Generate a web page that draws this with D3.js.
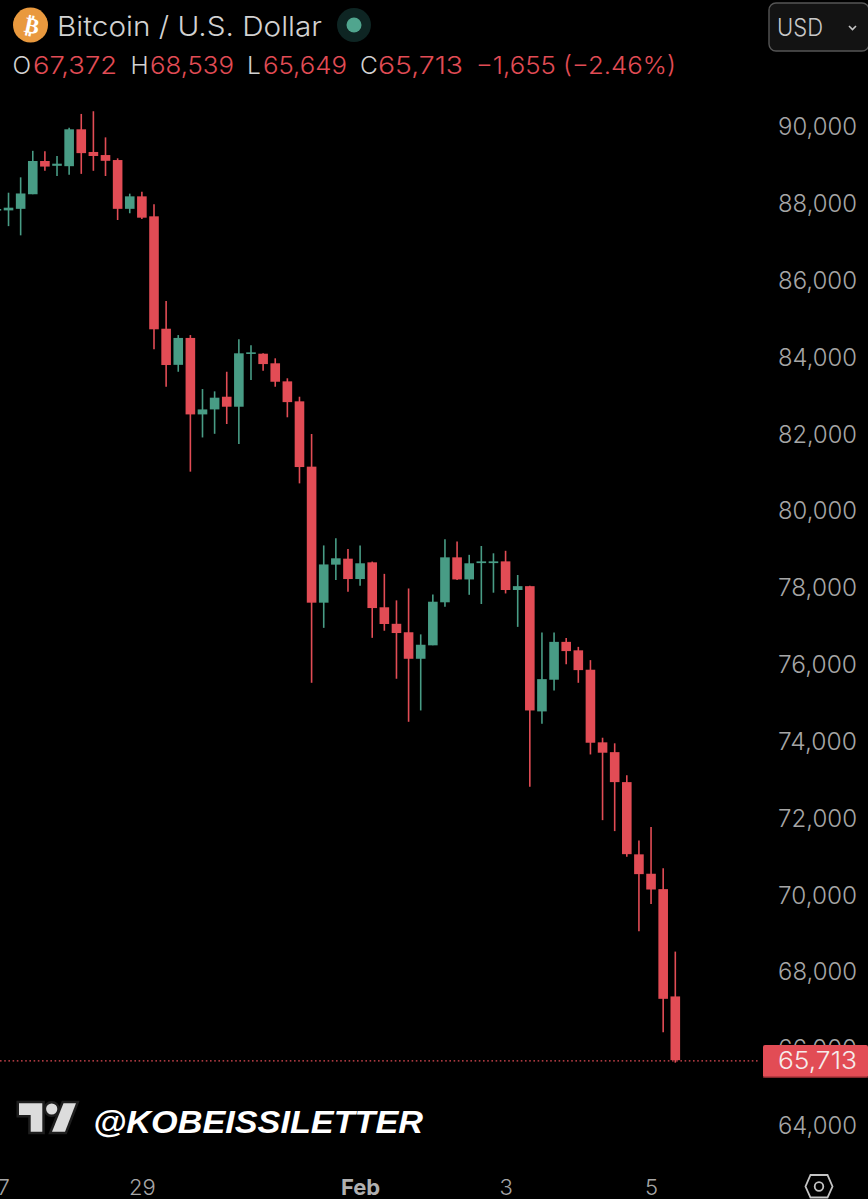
<!DOCTYPE html>
<html>
<head>
<meta charset="utf-8">
<script src="https://cdn.jsdelivr.net/npm/d3@7/dist/d3.min.js"></script>
<style>
html,body{margin:0;padding:0;background:#000;overflow:hidden}
svg{display:block}
text{font-family:Inter,Roboto,"Liberation Sans",sans-serif;font-weight:300}
</style>
</head>
<body>
<svg id="c" width="868" height="1199"></svg>
<script>
// 4-hour candles, first one is cut by the left edge
const open  = [87866,87830,87870,88250,89115,88990,88980,89940,89350,89270,89140,87870,88195,87675,84750,83810,84510,82520,82650,82980,82720,84100,84100,83850,83380,82860,81160,77620,78610,78765,78235,78670,77500,77070,76850,76160,76510,77630,78800,78225,78650,78650,78695,77950,78050,74790,75615,76600,76380,75875,73985,73730,72950,71070,70565,70165,67372];
const high  = [88300,88290,88690,89380,89370,89245,89980,90340,90410,89730,89185,88265,88315,87990,85470,84585,84585,83180,83120,83630,84475,84320,84110,83980,83460,82980,82010,79110,79295,79015,79110,78690,78370,77680,77990,76795,77835,79270,79215,78865,79095,78905,78970,78340,78060,76845,76845,76700,76470,76125,74105,73960,73130,71430,71785,70710,68539];
const low   = [87800,87420,87180,88250,88860,88725,88760,88780,88860,88725,87580,87755,87605,84215,83240,83630,81030,81920,82015,82270,81750,83415,83655,83240,82445,80725,75535,76965,78210,77905,78060,76705,76890,75640,74520,74815,76510,77515,78210,77825,77585,77880,77860,76990,72830,74470,75335,76015,75535,73670,71960,71675,71005,69070,69775,66440,65649];
const close = [87866,87900,88270,89115,88970,89045,89940,89320,89245,89120,87870,88195,87640,84735,83805,84510,82520,82650,82955,82720,84110,84135,83830,83370,82840,81150,77620,78615,78775,78235,78645,77480,77065,76830,76160,76525,77645,78800,78225,78645,78695,78695,77950,78050,74815,75630,76600,76360,75865,73975,73715,72950,71075,70555,70155,67310,65713];
const timeIndex  = [0,12,30,42,54];
const timeLabels = ["27","29","Feb","3","5"];
const priceTicks = [90000,88000,86000,84000,82000,80000,78000,76000,74000,72000,70000,68000,66000,64000];
const headerTitle = "Bitcoin / U.S. Dollar";
const changeText = "−1,655 (−2.46%)";
const lastPrice = close[close.length-1];

const RED="#e24c55", GREEN="#489c85", GREY="#a6a6a6";
const svg=d3.select("#c");
const fmt=d3.format(",");
const x=d3.scaleLinear().domain([0,56]).range([-3.6,675.3]);
const y=d3.scaleLinear().domain([90000,64000]).range([127,1126]);
const BODY=9.6;

svg.append("rect").attr("width",868).attr("height",1199).attr("fill","#000");

// price axis
const yAxis=svg.append("g").attr("transform","translate(778,-1)")
  .call(d3.axisRight(y).tickValues(priceTicks).tickSize(0).tickPadding(0).tickFormat(fmt));
yAxis.select(".domain").remove();
yAxis.selectAll("text").attr("fill",GREY).attr("font-size",24).attr("textLength",79)
  .attr("lengthAdjust","spacingAndGlyphs").attr("dy","0.36em").attr("text-anchor","start");

// time axis
const xAxis=svg.append("g").attr("transform","translate(0,1195)")
  .call(d3.axisBottom(x).tickValues(timeIndex).tickSize(0).tickPadding(0).tickFormat((d,i)=>timeLabels[i]));
xAxis.select(".domain").remove();
xAxis.selectAll("text").attr("font-size",22).attr("y",0).attr("dy",0)
  .style("font-weight",(d,i)=>timeLabels[i]==="Feb"?700:300)
  .attr("fill",(d,i)=>timeLabels[i]==="Feb"?"#b0b0b0":GREY);

// candles
const idx=d3.range(open.length);
const col=i=>close[i]>=open[i]?GREEN:RED;
svg.append("g").selectAll("line").data(idx).join("line")
  .attr("x1",i=>x(i)).attr("x2",i=>x(i)).attr("y1",i=>y(high[i])).attr("y2",i=>y(low[i]))
  .attr("stroke",col).attr("stroke-width",1.6);
svg.append("g").selectAll("rect").data(idx).join("rect")
  .attr("x",i=>x(i)-BODY/2).attr("width",BODY)
  .attr("y",i=>y(Math.max(open[i],close[i])))
  .attr("height",i=>Math.max(1.6,Math.abs(y(open[i])-y(close[i]))))
  .attr("fill",col);

// last price line + badge
svg.append("line").attr("x1",0).attr("x2",758).attr("y1",y(lastPrice)+.6).attr("y2",y(lastPrice)+.6)
  .attr("stroke",RED).attr("stroke-width",1.3).attr("stroke-dasharray","1.6 2.6");
svg.append("rect").attr("x",763).attr("y",1045).attr("width",105).attr("height",32.5).attr("rx",2).attr("fill",RED);
svg.append("rect").attr("x",763).attr("y",1076.5).attr("width",105).attr("height",1.2).attr("fill","#8e2a30");
svg.append("text").attr("x",778).attr("y",1068.5).attr("fill","#f6ecec").attr("font-size",24)
  .attr("textLength",79).attr("lengthAdjust","spacingAndGlyphs").text(fmt(lastPrice));

// header
svg.append("circle").attr("cx",30.5).attr("cy",25).attr("r",17.5).attr("fill","#e9993e");
svg.append("text").attr("transform","translate(30.5,33) rotate(12)").attr("text-anchor","middle").attr("fill","#fff")
  .attr("font-size",22).style("font-weight",700).style("font-family","'DejaVu Sans'").text("₿");
svg.append("text").attr("x",57).attr("y",36).attr("fill","#d2d2d2").attr("font-size",27.5)
  .attr("textLength",265).attr("lengthAdjust","spacingAndGlyphs").text(headerTitle);
svg.append("circle").attr("cx",354).attr("cy",25).attr("r",17).attr("fill","#0e2523");
svg.append("circle").attr("cx",354).attr("cy",25).attr("r",7.5).attr("fill","#50a58e");

const ohlc=[
 ["O",12.5,open[56],33,84],["H",130.5,high[56],150,84],["L",247,low[56],263,84],["C",360,close[56],378,85]];
ohlc.forEach(([k,kx,v,vx,w])=>{
  svg.append("text").attr("x",kx).attr("y",74).attr("fill","#d2d2d2").attr("font-size",24.5).text(k);
  svg.append("text").attr("x",vx).attr("y",74).attr("fill",RED).attr("font-size",24.5)
    .attr("textLength",w).attr("lengthAdjust","spacingAndGlyphs").text(fmt(v));
});
svg.append("text").attr("x",476).attr("y",74).attr("fill",RED).attr("font-size",24.5)
  .attr("textLength",200).attr("lengthAdjust","spacingAndGlyphs").text(changeText);

// currency button
svg.append("rect").attr("x",769).attr("y",3).attr("width",100).attr("height",48).attr("rx",7)
  .attr("fill","#131313").attr("stroke","#555").attr("stroke-width",1.4);
svg.append("text").attr("x",777).attr("y",36).attr("fill","#c8c8c8").attr("font-size",24)
  .attr("textLength",46).attr("lengthAdjust","spacingAndGlyphs").text("USD");
svg.append("path").attr("d",d3.line()([[849,26],[852.5,29.5],[856,26]])).attr("fill","none")
  .attr("stroke","#c4c4c4").attr("stroke-width",1.6);

// watermark
const lg=svg.append("g").attr("fill","#dcdcdc").attr("stroke","#1e1e1e").attr("stroke-width",5).attr("paint-order","stroke").attr("stroke-linejoin","miter");
lg.append("path").attr("d","M19 1103.3H42.3V1131.7H30.7V1115H19Z");
lg.append("circle").attr("cx",51.7).attr("cy",1109).attr("r",5.6);
lg.append("path").attr("d","M63.5 1103.3H76L65 1131.7H52Z");
svg.append("text").attr("x",93).attr("y",1133).attr("fill","#fff").attr("font-size",32)
  .style("font-weight",700).style("font-style","italic").style("font-family","'Liberation Sans'").attr("textLength",330)
  .attr("lengthAdjust","spacingAndGlyphs").text("@KOBEISSILETTER");

// settings icon
svg.append("path").attr("d","M810.5 1175H827.5L832.5 1186.5L827.5 1197.5H810.5L805.5 1186.5Z")
  .attr("fill","none").attr("stroke","#c4c4c4").attr("stroke-width",1.8);
svg.append("circle").attr("cx",819).attr("cy",1186.5).attr("r",4.3).attr("fill","none").attr("stroke","#c4c4c4").attr("stroke-width",1.8);
</script>
</body>
</html>
